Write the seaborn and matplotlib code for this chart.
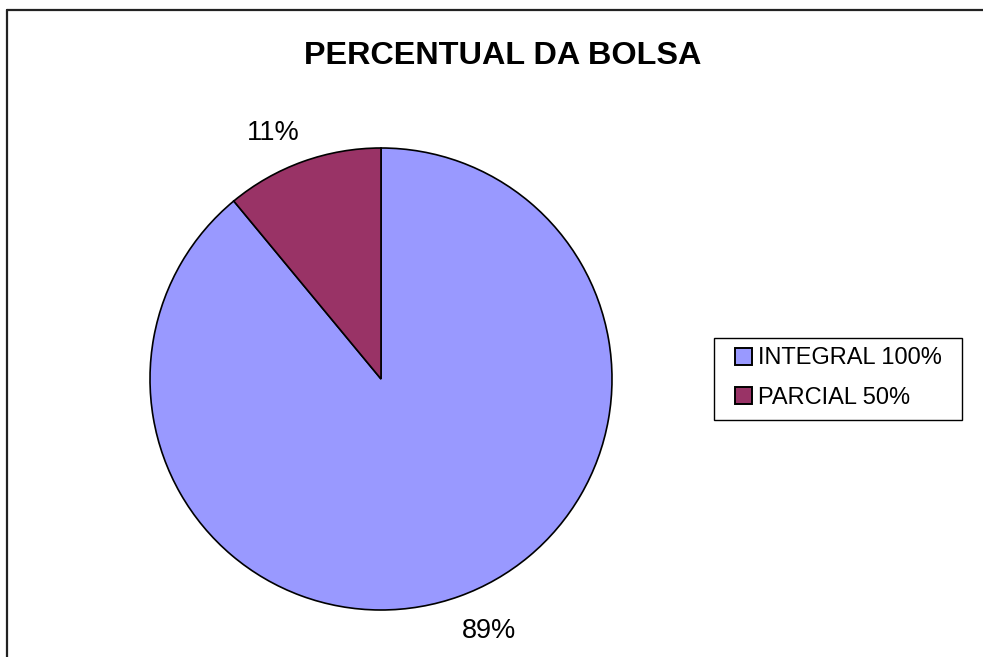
import numpy as np
import matplotlib
matplotlib.use("Agg")
import matplotlib.pyplot as plt
from matplotlib.lines import Line2D
from matplotlib.patches import Rectangle
import seaborn as sns

# Scholarship share data
categories = ["INTEGRAL 100%", "PARCIAL 50%"]
shares = [89, 11]
pct_labels = ["89%", "11%"]
slice_colors = ["#9999FF", "#993366"]

sns.set_theme(style="white")
plt.rcParams["font.family"] = ["Liberation Sans", "DejaVu Sans"]
palette = sns.color_palette(slice_colors)

W, H = 983, 657
fig = plt.figure(figsize=(W / 100, H / 100), dpi=100)
fig.patch.set_facecolor("white")

# Square axes that hold the pie
cx, cy, r = 381, 379, 231
ax = fig.add_axes([(cx - r) / W, (H - cy - r) / H, 2 * r / W, 2 * r / H])
wedges, _ = ax.pie(
    shares,
    colors=palette,
    startangle=90,
    counterclock=False,
    radius=1.0,
    wedgeprops=dict(edgecolor="black", linewidth=1.2),
)
ax.set_xlim(-1, 1)
ax.set_ylim(-1, 1)
ax.set_aspect("equal")
ax.axis("off")

# Percentage labels outside each slice
for w, lab in zip(wedges, pct_labels):
    theta = np.deg2rad((w.theta1 + w.theta2) / 2 + 3.7)
    ax.text(1.175 * np.cos(theta), 1.175 * np.sin(theta), lab,
            ha="center", va="center_baseline", fontsize=19.5, color="black")

# Title
fig.text(503 / W, 1 - 64.3 / H, "PERCENTUAL DA BOLSA", ha="center", va="baseline",
         fontsize=23.3, fontweight="bold", color="black")

# Legend entries
leg = fig.legend(
    wedges, categories,
    loc="center left",
    bbox_to_anchor=(735 / W, (H - 378) / H),
    bbox_transform=fig.transFigure,
    fontsize=17,
    frameon=False,
    borderaxespad=0,
    borderpad=0,
    handlelength=0.72,
    handleheight=0.72,
    handletextpad=0.24,
    labelspacing=0.72,
)
for t in leg.get_texts():
    t.set_color("black")
for h in leg.legend_handles:
    h.set_edgecolor("black")
    h.set_linewidth(1.4)

# Legend box
fig.add_artist(Rectangle((714 / W, 1 - 420 / H), (962 - 714) / W, (420 - 338) / H,
                         transform=fig.transFigure, fill=False,
                         edgecolor="black", linewidth=1.0, zorder=0))

# Chart-area border along the top and left edges
fig.add_artist(Line2D([6.5 / W, 1.0], [1 - 9.5 / H, 1 - 9.5 / H],
                      transform=fig.transFigure, color="#222222", lw=1.6))
fig.add_artist(Line2D([6.5 / W, 6.5 / W], [0.0, 1 - 9.5 / H],
                      transform=fig.transFigure, color="#222222", lw=1.6))

fig.savefig("out.png", dpi=100, facecolor="white")
